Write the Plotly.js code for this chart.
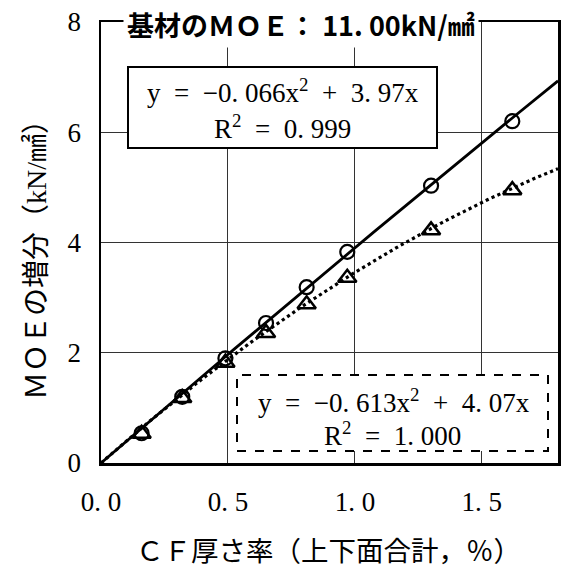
<!DOCTYPE html>
<html>
<head>
<meta charset="utf-8">
<script src="https://cdn.plot.ly/plotly-3.0.1.min.js"></script>
<style>
  html, body { margin: 0; padding: 0; background: #fff; }
  #chart { width: 568px; height: 569px; }
</style>
</head>
<body>
<div id="chart"></div>
<script>
// CF thickness ratio (top + bottom faces, %)
const cfRatio = [0.16, 0.32, 0.49, 0.65, 0.81, 0.97, 1.30, 1.62];
// MOE increase (kN/mm2), circle series
const moeCircle = [0.54, 1.20, 1.90, 2.54, 3.19, 3.83, 5.03, 6.20];
// MOE increase (kN/mm2), triangle series
const moeTriangle = [0.53, 1.18, 1.82, 2.36, 2.88, 3.36, 4.22, 4.95];

// quadratic trend coefficients [a, b] for y = a*x^2 + b*x
const fitCircle = [-0.066, 3.97];
const fitTriangle = [-0.613, 4.07];

const xTickVals = [0, 0.5, 1.0, 1.5];
const xTickText = ['0. 0', '0. 5', '1. 0', '1. 5'];
const yTickVals = [0, 2, 4, 6, 8];

const serif = 'Liberation Serif, Noto Sans CJK JP, serif';
const S = '\u00A0';

function trend(coef) {
  const xs = [], ys = [];
  for (let i = 0; i <= 90; i++) {
    const x = i * 0.02;
    xs.push(x);
    ys.push(coef[0] * x * x + coef[1] * x);
  }
  return { x: xs, y: ys };
}

const tc = trend(fitCircle);
const tt = trend(fitTriangle);

const traces = [
  { x: tc.x, y: tc.y, mode: 'lines', line: { color: '#000', width: 2.8 }, hoverinfo: 'skip' },
  { x: tt.x, y: tt.y, mode: 'lines', line: { color: '#000', width: 3.2, dash: 'dot' }, hoverinfo: 'skip' },
  { x: cfRatio, y: moeCircle, mode: 'markers',
    marker: { symbol: 'circle-open', size: 14, color: '#000', line: { width: 2.2, color: '#000' } } },
  { x: cfRatio, y: moeTriangle, mode: 'markers',
    marker: { symbol: 'triangle-up-open', size: 16, color: '#000', line: { width: 2.5, color: '#000' } } }
];

// paper-coordinate helpers for the plot area (101..558 x 22..463 px)
const px = v => (v - 101) / 457;
const py = v => (463 - v) / 441;

function eq(a, b) {
  return 'y' + S + S + '=' + S + S + '−0.' + S + a + 'x<sup>2</sup>' + S + S + '+' + S + S + b + 'x';
}

const layout = {
  width: 568, height: 569,
  margin: { l: 101, r: 10, t: 22, b: 106 },
  paper_bgcolor: '#fff', plot_bgcolor: '#fff',
  showlegend: false,
  xaxis: {
    range: [0, 1.8], tickvals: xTickVals, ticktext: xTickText,
    showgrid: true, gridcolor: '#333', gridwidth: 1, zeroline: false,
    showline: true, linecolor: '#000', linewidth: 2.5, mirror: true,
    ticks: '', ticklabelstandoff: 13,
    tickfont: { family: 'Liberation Serif', size: 27, color: '#000' }
  },
  yaxis: {
    range: [0, 8], tickvals: yTickVals,
    showgrid: true, gridcolor: '#333', gridwidth: 1, zeroline: false,
    showline: true, linecolor: '#000', linewidth: 2.5, mirror: true,
    ticks: '', ticklabelstandoff: 12,
    tickfont: { family: 'Liberation Serif', size: 27, color: '#000' }
  },
  shapes: [
    { type: 'rect', xref: 'paper', yref: 'paper', layer: 'above',
      x0: px(128), x1: px(437), y0: py(148), y1: py(67),
      line: { color: '#000', width: 2 }, fillcolor: '#fff' },
    { type: 'rect', xref: 'paper', yref: 'paper', layer: 'above',
      x0: px(237), x1: px(548), y0: py(451), y1: py(375),
      line: { color: '#000', width: 2, dash: 'dash' }, fillcolor: '#fff' }
  ],
  annotations: [
    { xref: 'paper', yref: 'paper', x: px(328), y: py(551), xanchor: 'center', yanchor: 'middle',
      text: 'ＣＦ厚さ率（上下面合計，％）', showarrow: false, borderpad: 0,
      font: { family: serif, size: 27.5, color: '#000' } },
    { xref: 'paper', yref: 'paper', x: px(36), y: py(253), xanchor: 'center', yanchor: 'middle',
      textangle: -90, text: 'ＭＯＥの増分（kN/㎟）', showarrow: false,
      font: { family: serif, size: 28, color: '#000' } },
    { xref: 'paper', yref: 'paper', x: px(283), y: py(91), xanchor: 'center', yanchor: 'middle',
      text: eq('066', '3.' + S + '97'), showarrow: false,
      font: { family: serif, size: 27, color: '#000' } },
    { xref: 'paper', yref: 'paper', x: px(282), y: py(127), xanchor: 'center', yanchor: 'middle',
      text: 'R<sup>2</sup>' + S + S + '=' + S + S + '0.' + S + '999', showarrow: false,
      font: { family: serif, size: 27, color: '#000' } },
    { xref: 'paper', yref: 'paper', x: px(394), y: py(401), xanchor: 'center', yanchor: 'middle',
      text: eq('613', '4.' + S + '07'), showarrow: false,
      font: { family: serif, size: 27, color: '#000' } },
    { xref: 'paper', yref: 'paper', x: px(392), y: py(434), xanchor: 'center', yanchor: 'middle',
      text: 'R<sup>2</sup>' + S + S + '=' + S + S + '1.' + S + '000', showarrow: false,
      font: { family: serif, size: 27, color: '#000' } },
    { xref: 'paper', yref: 'paper', x: px(123), y: 1, xanchor: 'left', yanchor: 'middle', yshift: -2,
      text: '<b>基材のＭＯＥ：' + S + '11.' + S + '00kN/㎟</b>', showarrow: false, bgcolor: '#fff',
      borderpad: 3,
      font: { family: 'Noto Sans CJK JP, sans-serif', size: 27, color: '#000' } }
  ]
};

Plotly.newPlot('chart', traces, layout, { displayModeBar: false, staticPlot: true });
</script>
</body>
</html>
